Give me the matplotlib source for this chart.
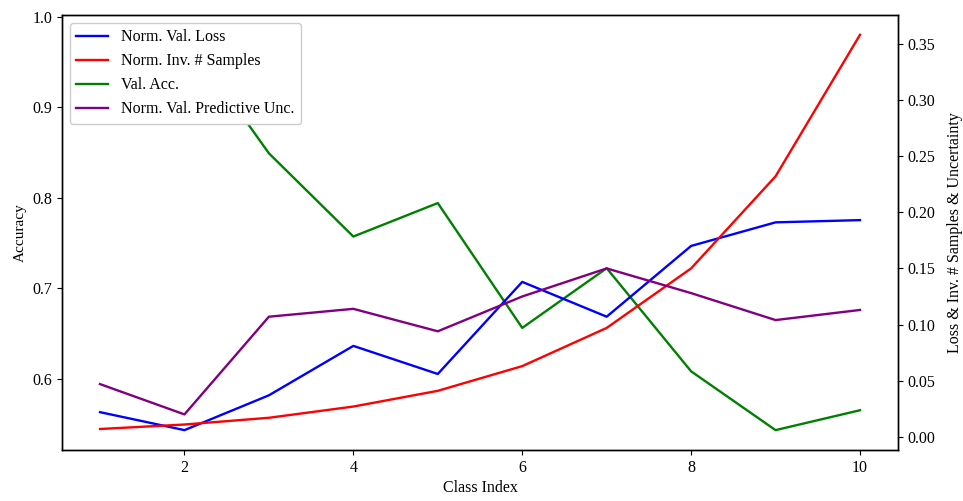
import numpy as np
import matplotlib
matplotlib.use('Agg')
import matplotlib.pyplot as plt

plt.rcParams['font.family'] = ['Liberation Serif', 'DejaVu Serif']
plt.rcParams['font.size'] = 11.5

# Values
classes = [1, 2, 3, 4, 5, 6, 7, 8, 9, 10]
val_loss = [0.022, 0.006, 0.037, 0.081, 0.056, 0.138, 0.107, 0.170, 0.191, 0.193]
inv_samples = [0.007, 0.011, 0.017, 0.027, 0.041, 0.063, 0.097, 0.150, 0.232, 0.358]
val_acc = [0.96, 0.98, 0.849, 0.757, 0.794, 0.656, 0.722, 0.608, 0.543, 0.565]
pred_unc = [0.047, 0.020, 0.107, 0.114, 0.094, 0.125, 0.150, 0.128, 0.104, 0.113]

fig, ax1 = plt.subplots(figsize=(9.63, 5.01), dpi=100)
fig.subplots_adjust(left=0.0644, right=0.9325, top=0.970, bottom=0.102)
ax2 = ax1.twinx()

l_acc, = ax1.plot(classes, val_acc, color='green', lw=1.7, label='Val. Acc.')
l_loss, = ax2.plot(classes, val_loss, color='blue', lw=1.7, label='Norm. Val. Loss')
l_inv, = ax2.plot(classes, inv_samples, color='red', lw=1.7, label='Norm. Inv. # Samples')
l_unc, = ax2.plot(classes, pred_unc, color='purple', lw=1.7, label='Norm. Val. Predictive Unc.')

ax1.set_xlabel('Class Index', fontsize=11.5, labelpad=3)
ax1.set_ylabel('Accuracy', fontsize=11)
ax2.set_ylabel('Loss & Inv. # Samples & Uncertainty', fontsize=11.5, labelpad=8)

ax1.set_xticks([2, 4, 6, 8, 10])
ax1.set_yticks([0.6, 0.7, 0.8, 0.9, 1.0])
ax2.set_yticks(np.arange(0, 0.36, 0.05))

for ax in (ax1, ax2):
    for s in ax.spines.values():
        s.set_linewidth(1.0)

ax2.legend(handles=[l_loss, l_inv, l_acc, l_unc], loc='upper left', framealpha=1)

fig.savefig('out.png', dpi=100)
